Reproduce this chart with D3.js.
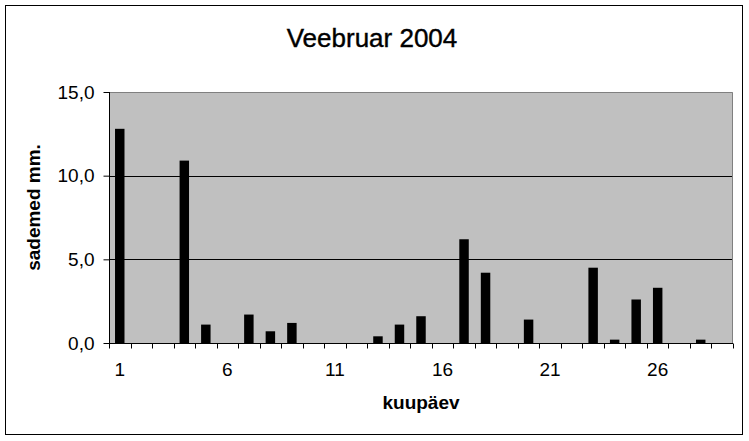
<!DOCTYPE html>
<html>
<head>
<meta charset="utf-8">
<script src="https://cdn.jsdelivr.net/npm/d3@7"></script>
<style>
  html, body { margin: 0; padding: 0; background: #fff; }
  svg { display: block; font-family: "Liberation Sans", Arial, sans-serif; }
</style>
</head>
<body>
<svg id="chart" width="749" height="441"></svg>
<script>
// Data
const days = d3.range(1, 30).map(String);
const precipitation = [12.8, 0, 0, 10.9, 1.1, 0, 1.7, 0.7, 1.2, 0, 0, 0, 0.4, 1.1, 1.6, 0, 6.2, 4.2, 0, 1.4, 0, 0, 4.5, 0.2, 2.6, 3.3, 0, 0.2, 0];
const yTicks = [0, 5, 10, 15];
const xLabelDays = ["1", "6", "11", "16", "21", "26"];
const titleText = "Veebruar 2004";
const xTitle = "kuupäev";
const yTitle = "sademed mm.";

const svg = d3.select("#chart");
const plot = { left: 109, right: 733, top: 92, bottom: 343 };

// outer frame
svg.append("rect").attr("x", 5.5).attr("y", 5.5).attr("width", 737).attr("height", 429)
  .attr("fill", "#fff").attr("stroke", "#000").attr("stroke-width", 1);

const x = d3.scaleBand().domain(days).range([plot.left, plot.right]).paddingInner(0.56).paddingOuter(0.28);
const xb = d3.scaleLinear().domain([0, days.length]).range([plot.left, plot.right]);
const y = d3.scaleLinear().domain([0, 15]).range([plot.bottom, plot.top]);

// plot background
svg.append("rect").attr("x", plot.left).attr("y", plot.top)
  .attr("width", plot.right - plot.left).attr("height", plot.bottom - plot.top)
  .attr("fill", "#c0c0c0");

// gridlines
svg.append("g").selectAll("line").data(yTicks.filter(d => d > 0 && d < 15)).join("line")
  .attr("x1", plot.left).attr("x2", plot.right)
  .attr("y1", d => Math.round(y(d)) + 0.5).attr("y2", d => Math.round(y(d)) + 0.5)
  .attr("stroke", "#000");

// plot border top/right gray
svg.append("path")
  .attr("d", `M${plot.left},${plot.top + 0.5}H${plot.right - 0.5}V${plot.bottom}`)
  .attr("fill", "none").attr("stroke", "#808080");

// bars
svg.append("g").selectAll("rect").data(precipitation.map((v, i) => ({ day: days[i], v })).filter(d => d.v > 0)).join("rect")
  .attr("x", d => x(d.day)).attr("width", x.bandwidth())
  .attr("y", d => y(d.v)).attr("height", d => y(0) - y(d.v))
  .attr("fill", "#000");

// y axis
const yAxis = d3.axisLeft(y).tickValues(yTicks).tickSize(6).tickPadding(9)
  .tickFormat(d => d3.format(".1f")(d).replace(".", ","));
const gy = svg.append("g").attr("transform", `translate(${plot.left + 0.5},0)`).call(yAxis);
gy.select(".domain").attr("d", `M0,${plot.top}V${plot.bottom}`).attr("stroke", "#000");
gy.selectAll("text").attr("font-size", 19).attr("fill", "#000").attr("font-family", "Liberation Sans, Arial, sans-serif");

// x axis: ticks at band boundaries
const gx = svg.append("g").attr("transform", `translate(0,${plot.bottom + 0.5})`);
gx.append("line").attr("x1", plot.left).attr("x2", plot.right).attr("stroke", "#000");
gx.selectAll("line.tick").data(d3.range(0, days.length + 1)).join("line").attr("class", "tick")
  .attr("x1", d => Math.round(xb(d)) + 0.5).attr("x2", d => Math.round(xb(d)) + 0.5)
  .attr("y1", 0).attr("y2", 5).attr("stroke", "#000");
gx.selectAll("text").data(xLabelDays).join("text")
  .attr("x", d => x(d) + x.bandwidth() / 2).attr("y", 32)
  .attr("text-anchor", "middle").attr("font-size", 19).attr("fill", "#000")
  .text(d => d);

// titles
svg.append("text").attr("x", 372).attr("y", 46.5).attr("text-anchor", "middle")
  .attr("font-size", 26).attr("font-weight", "normal").attr("stroke", "#000").attr("stroke-width", 0.4)
  .text(titleText);
svg.append("text").attr("x", (plot.left + plot.right) / 2).attr("y", 409).attr("text-anchor", "middle")
  .attr("font-size", 19).attr("font-weight", "bold").text(xTitle);
svg.append("text").attr("transform", "translate(40,207.5) rotate(-90)").attr("text-anchor", "middle")
  .attr("font-size", 19).attr("font-weight", "bold").text(yTitle);
</script>
</body>
</html>
